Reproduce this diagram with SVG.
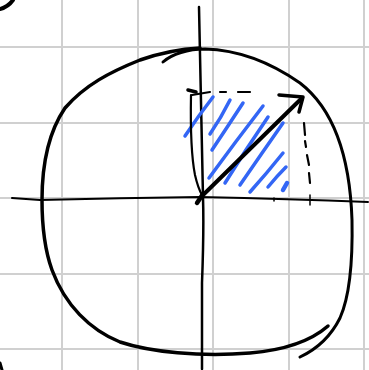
<svg xmlns="http://www.w3.org/2000/svg" width="369" height="370" viewBox="0 0 369 370">
<style>
.grid{stroke:#d0d0d0;stroke-width:2;fill:none}
.ink{stroke:#000;fill:none;stroke-linecap:round;stroke-linejoin:round}
.hatch{stroke:#3366f5;fill:none;stroke-linecap:round;stroke-width:3.5}
</style>
<rect width="369" height="370" fill="#fff"/>
<g id="grid" class="grid">
<path d="M62,0V370M138,0V370M213,0V370M289,0V370M364,0V370"/>
<path d="M0,47H369M0,123H369M0,198H369M0,274H369M0,349H369"/>
</g>
<g id="corner-marks" class="ink">
<path d="M0,9 Q8,7 13,0" stroke-width="4"/>
<path d="M0,363 L2,370" stroke-width="3"/>
</g>
<g id="circle" class="ink">
<path d="M163,62 C172,54 188,49 205,49 C240,50 270,62 300,83 C335,110 350,160 352,220 C353,270 348,300 340,318 C330,338 315,350 300,357" stroke-width="3"/>
<path d="M328,326 C312,340 285,350 250,353 C200,357 150,352 120,342 C90,330 65,305 52,270 C43,245 42,220 42,200 C42,160 50,130 65,108 C85,85 110,72 140,60 C160,53 180,49 200,48" stroke-width="3.5"/>
</g>
<g id="axes" class="ink">
<path d="M12,198 L40,200 Q120,198 200,197 Q290,199 368,202" stroke-width="2"/>
<path d="M199,7 Q201,100 203,197 Q204,230 202,283 L202,369" stroke-width="2.5"/>
<path d="M274,198 V201 M310,195 V205" stroke-width="1.5"/>
</g>
<g id="hatching" class="hatch">
<path d="M185,136 Q199,115 213,97"/>
<path d="M210,134 Q221,118 230,100"/>
<path d="M212,150 Q228,126 243,103"/>
<path d="M209,178 Q236,141 263,106"/>
<path d="M225,183 Q246,149 268,117"/>
<path d="M240,185 Q262,153 283,123"/>
<path d="M250,192 Q267,173 283,153"/>
<path d="M268,187 Q277,176 286,167"/>
<path d="M283,190 L287,183" stroke-width="4.5"/>
</g>
<g id="projection" class="ink">
<path d="M188,90 L196,92" stroke-width="3.5"/>
<path d="M192,95 L210,92 M220,92 L226,92 M238,92 L250,92" stroke-width="2.2"/>
<path d="M191,95 Q190,150 195,175 Q198,188 202,195" stroke-width="2.2"/>
<path d="M304,123 L305,135 M305,141 L306,147 M307,155 L309,165 M309,173 L310,183" stroke-width="2.2"/>
</g>
<g id="vector" class="ink">
<path d="M202,196 L302,98" stroke-width="4"/>
<path d="M279,95 L303,97 L299,112" stroke-width="3.5"/>
<path d="M197,203 L203,194" stroke-width="4.5"/>
</g>
</svg>
